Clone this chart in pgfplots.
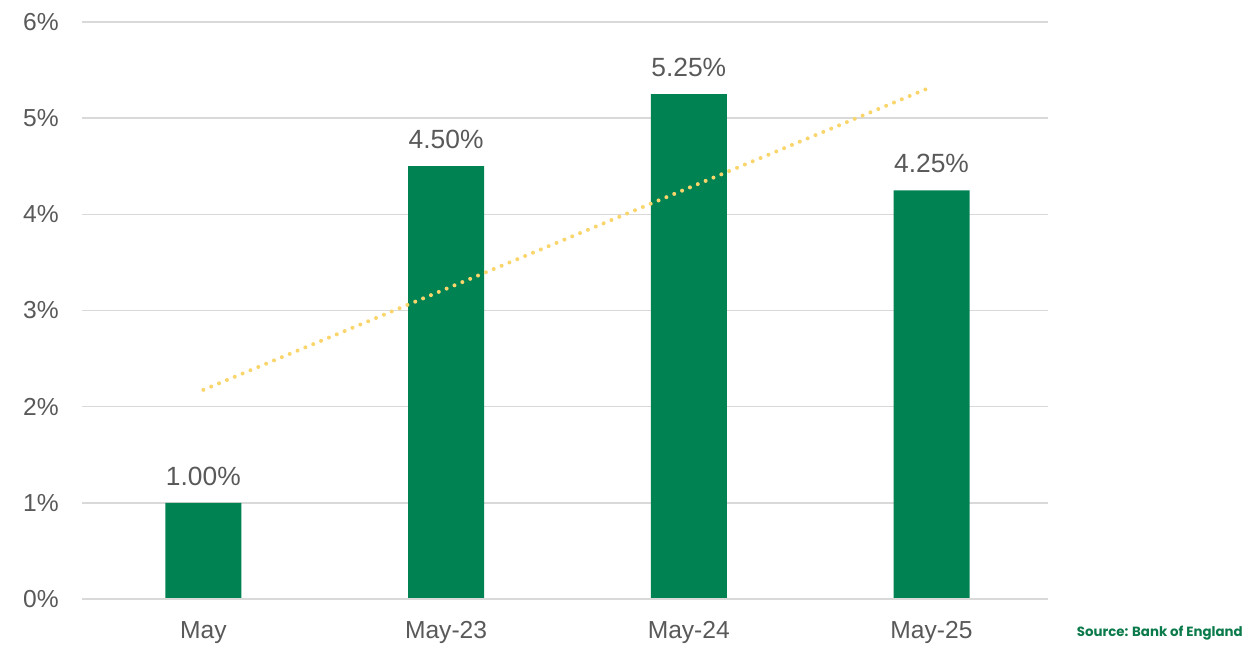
\documentclass[border=0pt]{standalone}
\usepackage{fontspec}
\setmainfont{Liberation Sans}
\newfontfamily\srcfont{Poppins}
\usepackage{pgfplots}
\pgfplotsset{compat=1.18}

\definecolor{bargreen}{HTML}{008253}
\definecolor{trendyellow}{HTML}{F9D56B}
\definecolor{txtgray}{HTML}{595959}
\definecolor{gridgray}{HTML}{D9D9D9}
\definecolor{srcgreen}{HTML}{0B7A4B}

\begin{document}
\begin{tikzpicture}
% page frame, 1 px = 0.2 mm
\useasboundingbox (-16.4mm,-12.8mm) rectangle (233.8mm,119.8mm);
\begin{axis}[
	at={(0,0)}, anchor=south west,
	scale only axis,
	width=193.2mm, height=115.4mm,
	xmin=-0.5, xmax=3.48,
	ymin=0, ymax=6,
	xtick=data,
	xticklabels={May,May-23,May-24,May-25},
	ytick={0,1,...,6},
	yticklabel={\pgfmathprintnumber{\tick}\%},
	axis line style={draw=none},
	major tick length=0pt,
	ymajorgrids,
	grid style={gridgray, line width=0.28mm},
	tick label style={font=\fontsize{14}{16}\selectfont, text=txtgray},
	xticklabel style={yshift=-3.3mm},
	yticklabel style={xshift=-3.4mm},
	/pgf/number format/assume math mode=true,
	clip=false,
]
\addplot[ybar, bar width=15.2mm, fill=bargreen, draw=none,
	nodes near coords={\pgfmathprintnumber[fixed,fixed zerofill,precision=2]{\pgfplotspointmeta}\%},
	nodes near coords style={font=\fontsize{15}{17}\selectfont, text=txtgray, yshift=2.2mm}]
	coordinates {(0,1.00) (1,4.50) (2,5.25) (3,4.25)};
\addplot[trendyellow, line width=0.8mm, line cap=round, dash pattern=on 0pt off 1.7mm]
	coordinates {(0,2.175) (3,5.325)};
\draw[gridgray, line width=0.28mm] (rel axis cs:0,0) -- (rel axis cs:1,0);
\end{axis}
\node[anchor=east, inner sep=0pt, text=srcgreen, font=\srcfont\bfseries\fontsize{7.6}{9}\selectfont]
	at (232.2mm,-6.8mm) {Source: Bank of England};
\end{tikzpicture}
\end{document}
